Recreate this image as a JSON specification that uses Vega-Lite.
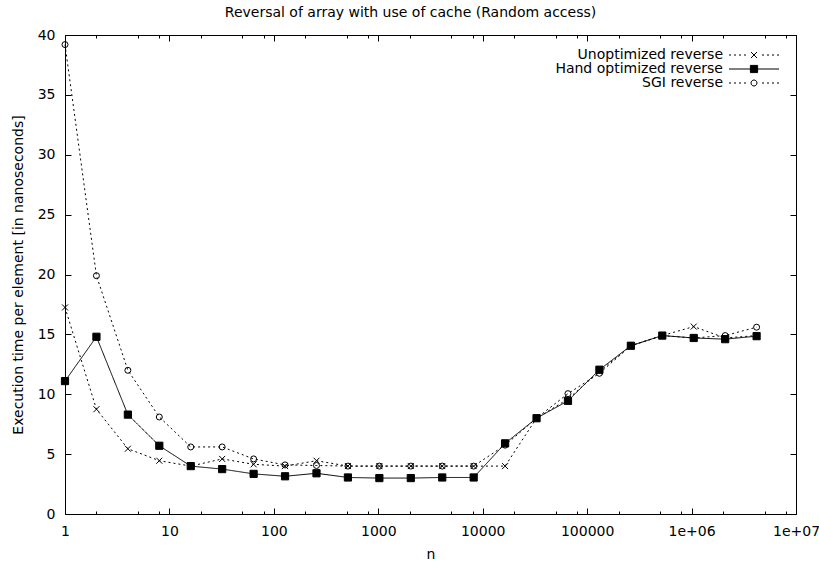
{
  "$schema": "https://vega.github.io/schema/vega-lite/v6.json",
  "width": 731,
  "height": 479,
  "autosize": {"type": "none"},
  "padding": {"left": 65, "top": 35, "right": 23, "bottom": 53},
  "background": "white",
  "config": {
    "font": "DejaVu Sans",
    "view": {"stroke": "black", "strokeWidth": 1},
    "axis": {
      "domain": false,
      "grid": false,
      "tickColor": "black",
      "tickWidth": 1,
      "labelColor": "black",
      "labelFontSize": 14,
      "titleColor": "black",
      "titleFontSize": 14,
      "titleFontWeight": "normal",
      "labelFlush": false,
      "labelOverlap": false
    },
    "legend": {"labelColor": "black"}
  },
  "title": {
    "text": "Reversal of array with use of cache (Random access)",
    "fontSize": 14,
    "fontWeight": "normal",
    "color": "black",
    "offset": 8,
    "dx": -20
  },
  "data": {
    "values": [
      {"n": 1, "series": "Unoptimized reverse", "t": 17.25},
      {"n": 2, "series": "Unoptimized reverse", "t": 8.75},
      {"n": 4, "series": "Unoptimized reverse", "t": 5.45},
      {"n": 8, "series": "Unoptimized reverse", "t": 4.45},
      {"n": 16, "series": "Unoptimized reverse", "t": 4.0},
      {"n": 32, "series": "Unoptimized reverse", "t": 4.6},
      {"n": 64, "series": "Unoptimized reverse", "t": 4.15},
      {"n": 128, "series": "Unoptimized reverse", "t": 4.0},
      {"n": 256, "series": "Unoptimized reverse", "t": 4.45},
      {"n": 512, "series": "Unoptimized reverse", "t": 4.0},
      {"n": 1024, "series": "Unoptimized reverse", "t": 4.0},
      {"n": 2048, "series": "Unoptimized reverse", "t": 4.0},
      {"n": 4096, "series": "Unoptimized reverse", "t": 4.0},
      {"n": 8192, "series": "Unoptimized reverse", "t": 4.0},
      {"n": 16384, "series": "Unoptimized reverse", "t": 4.0},
      {"n": 32768, "series": "Unoptimized reverse", "t": 8.0},
      {"n": 65536, "series": "Unoptimized reverse", "t": 9.6},
      {"n": 131072, "series": "Unoptimized reverse", "t": 11.9},
      {"n": 262144, "series": "Unoptimized reverse", "t": 14.05},
      {"n": 524288, "series": "Unoptimized reverse", "t": 14.9},
      {"n": 1048576, "series": "Unoptimized reverse", "t": 15.65},
      {"n": 2097152, "series": "Unoptimized reverse", "t": 14.7},
      {"n": 4194304, "series": "Unoptimized reverse", "t": 14.9},
      {"n": 1, "series": "Hand optimized reverse", "t": 11.1},
      {"n": 2, "series": "Hand optimized reverse", "t": 14.8},
      {"n": 4, "series": "Hand optimized reverse", "t": 8.3},
      {"n": 8, "series": "Hand optimized reverse", "t": 5.7},
      {"n": 16, "series": "Hand optimized reverse", "t": 4.0},
      {"n": 32, "series": "Hand optimized reverse", "t": 3.75},
      {"n": 64, "series": "Hand optimized reverse", "t": 3.35},
      {"n": 128, "series": "Hand optimized reverse", "t": 3.15},
      {"n": 256, "series": "Hand optimized reverse", "t": 3.4},
      {"n": 512, "series": "Hand optimized reverse", "t": 3.05},
      {"n": 1024, "series": "Hand optimized reverse", "t": 3.0},
      {"n": 2048, "series": "Hand optimized reverse", "t": 3.0},
      {"n": 4096, "series": "Hand optimized reverse", "t": 3.05},
      {"n": 8192, "series": "Hand optimized reverse", "t": 3.05},
      {"n": 16384, "series": "Hand optimized reverse", "t": 5.9},
      {"n": 32768, "series": "Hand optimized reverse", "t": 8.0},
      {"n": 65536, "series": "Hand optimized reverse", "t": 9.45},
      {"n": 131072, "series": "Hand optimized reverse", "t": 12.05},
      {"n": 262144, "series": "Hand optimized reverse", "t": 14.05},
      {"n": 524288, "series": "Hand optimized reverse", "t": 14.9},
      {"n": 1048576, "series": "Hand optimized reverse", "t": 14.7},
      {"n": 2097152, "series": "Hand optimized reverse", "t": 14.6},
      {"n": 4194304, "series": "Hand optimized reverse", "t": 14.85},
      {"n": 1, "series": "SGI reverse", "t": 39.2},
      {"n": 2, "series": "SGI reverse", "t": 19.9},
      {"n": 4, "series": "SGI reverse", "t": 12.0},
      {"n": 8, "series": "SGI reverse", "t": 8.1},
      {"n": 16, "series": "SGI reverse", "t": 5.6},
      {"n": 32, "series": "SGI reverse", "t": 5.6},
      {"n": 64, "series": "SGI reverse", "t": 4.6},
      {"n": 128, "series": "SGI reverse", "t": 4.1},
      {"n": 256, "series": "SGI reverse", "t": 4.05},
      {"n": 512, "series": "SGI reverse", "t": 4.0},
      {"n": 1024, "series": "SGI reverse", "t": 4.0},
      {"n": 2048, "series": "SGI reverse", "t": 4.0},
      {"n": 4096, "series": "SGI reverse", "t": 4.0},
      {"n": 8192, "series": "SGI reverse", "t": 4.0},
      {"n": 16384, "series": "SGI reverse", "t": 5.75},
      {"n": 32768, "series": "SGI reverse", "t": 8.0},
      {"n": 65536, "series": "SGI reverse", "t": 10.05},
      {"n": 131072, "series": "SGI reverse", "t": 11.75},
      {"n": 262144, "series": "SGI reverse", "t": 14.05},
      {"n": 524288, "series": "SGI reverse", "t": 14.9},
      {"n": 1048576, "series": "SGI reverse", "t": 14.7},
      {"n": 2097152, "series": "SGI reverse", "t": 14.9},
      {"n": 4194304, "series": "SGI reverse", "t": 15.6}
    ]
  },
  "layer": [
    {
      "layer": [
        {
          "mark": {"type": "line", "color": "black", "strokeWidth": 1},
          "encoding": {
            "x": {
              "field": "n",
              "type": "quantitative",
              "scale": {"type": "log", "domain": [1, 10000000]},
              "axis": {
                "orient": "bottom",
                "title": "n",
                "titlePadding": 6,
                "values": [1, 2, 5, 8, 10, 20, 50, 80, 100, 200, 500, 800, 1000, 2000, 5000, 8000, 10000, 20000, 50000, 80000, 100000, 200000, 500000, 800000, 1000000, 2000000, 5000000, 8000000, 10000000],
                "tickSize": {"condition": {"test": "abs(log(datum.value)/LN10 - round(log(datum.value)/LN10)) < 0.001", "value": -6}, "value": -3},
                "labelPadding": 16,
                "labelExpr": "abs(log(datum.value)/LN10 - round(log(datum.value)/LN10)) < 0.001 ? (datum.value >= 1000000 ? '1e+0' + round(log(datum.value)/LN10) : format(datum.value, 'd')) : ''"
              }
            },
            "y": {
              "field": "t",
              "type": "quantitative",
              "scale": {"domain": [0, 40]},
              "axis": {
                "orient": "left",
                "title": "Execution time per element [in nanoseconds]",
                "values": [0, 5, 10, 15, 20, 25, 30, 35, 40],
                "tickSize": -6,
                "labelPadding": 16,
                "titlePadding": 12
              }
            },
            "detail": {"field": "series", "type": "nominal"},
            "strokeDash": {
              "condition": {"test": "datum.series === 'Hand optimized reverse'", "value": [1, 0]},
              "value": [2, 3]
            }
          }
        },
        {
          "mark": {"type": "point", "stroke": "black", "strokeWidth": 1, "opacity": 1, "size": 36},
          "encoding": {
            "x": {"field": "n", "type": "quantitative"},
            "y": {"field": "t", "type": "quantitative"},
            "shape": {
              "field": "series",
              "type": "nominal",
              "scale": {
                "domain": ["Unoptimized reverse", "Hand optimized reverse", "SGI reverse"],
                "range": ["M-1,-1L1,1M-1,1L1,-1", "M-1.2,-1.2H1.2V1.2H-1.2Z", "circle"]
              },
              "legend": null
            },
            "fill": {
              "condition": {"test": "datum.series === 'Hand optimized reverse'", "value": "black"},
              "value": "transparent"
            }
          }
        }
      ]
    },
    {
      "mark": {"type": "point", "opacity": 0},
      "encoding": {
        "x": {
          "field": "n",
          "type": "quantitative",
          "axis": {
            "orient": "top",
            "title": null,
            "labels": false,
            "values": [1, 2, 5, 8, 10, 20, 50, 80, 100, 200, 500, 800, 1000, 2000, 5000, 8000, 10000, 20000, 50000, 80000, 100000, 200000, 500000, 800000, 1000000, 2000000, 5000000, 8000000, 10000000],
            "tickSize": {"condition": {"test": "abs(log(datum.value)/LN10 - round(log(datum.value)/LN10)) < 0.001", "value": -6}, "value": -3}
          }
        },
        "y": {
          "field": "t",
          "type": "quantitative",
          "axis": {
            "orient": "right",
            "title": null,
            "labels": false,
            "values": [0, 5, 10, 15, 20, 25, 30, 35, 40],
            "tickSize": -6
          }
        }
      }
    },
    {
      "transform": [{"filter": "datum.n < 0"}],
      "mark": {"type": "point", "filled": false, "stroke": "black", "strokeWidth": 1, "opacity": 1},
      "encoding": {
        "shape": {
          "field": "series",
          "type": "nominal",
          "scale": {
            "domain": ["Unoptimized reverse", "Hand optimized reverse", "SGI reverse"],
            "range": [
              "M-5,0H-4.6M-4,0H-3.6M-3,0H-2.6M-2,0H-1.6M1.6,0H2M2.6,0H3M3.6,0H4M4.6,0H5M-0.6,-0.6L0.6,0.6M-0.6,0.6L0.6,-0.6",
              "M-5,0H5M-0.72,-0.72H0.72V0.72H-0.72Z",
              "M-5,0H-4.6M-4,0H-3.6M-3,0H-2.6M-2,0H-1.6M1.6,0H2M2.6,0H3M3.6,0H4M4.6,0H5M0.6,0A0.6,0.6,0,1,1,-0.6,0A0.6,0.6,0,1,1,0.6,0"
            ]
          },
          "legend": {
            "title": null,
            "orient": "none",
            "legendX": 682,
            "legendY": 13,
            "padding": 0,
            "rowPadding": -6,
            "symbolSize": 100,
            "symbolStrokeWidth": 1,
            "labelAlign": "right",
            "labelOffset": -38,
            "labelLimit": 400,
            "labelFontSize": 14,
            "labelColor": "black"
          }
        },
        "fill": {
          "field": "series",
          "type": "nominal",
          "scale": {
            "domain": ["Unoptimized reverse", "Hand optimized reverse", "SGI reverse"],
            "range": ["transparent", "black", "transparent"]
          },
          "legend": {
            "title": null,
            "orient": "none",
            "legendX": 682,
            "legendY": 13,
            "padding": 0,
            "rowPadding": -6,
            "symbolSize": 100,
            "symbolStrokeWidth": 1,
            "labelAlign": "right",
            "labelOffset": -38,
            "labelLimit": 400,
            "labelFontSize": 14,
            "labelColor": "black"
          }
        }
      }
    }
  ],
  "resolve": {
    "axis": {"x": "independent", "y": "independent"},
    "scale": {"shape": "independent", "fill": "independent"}
  }
}
